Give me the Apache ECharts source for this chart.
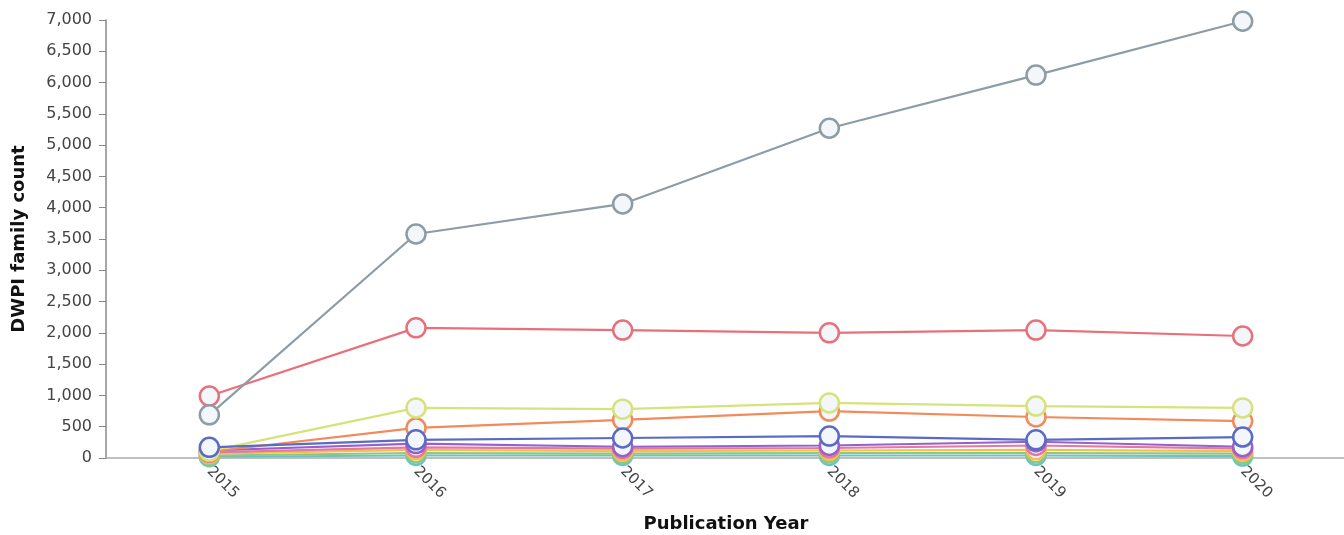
<!DOCTYPE html>
<html>
<head>
<meta charset="utf-8">
<script src="https://cdn.jsdelivr.net/npm/echarts@6/dist/echarts.min.js"></script>
<style>html,body{margin:0;padding:0;background:#fff;}#c{width:1344px;height:535px;}</style>
</head>
<body>
<div id="c"></div>
<script>
var years = ['2015', '2016', '2017', '2018', '2019', '2020'];
var seriesNames = ['S1', 'S2', 'S3', 'S4', 'S5', 'S6', 'S7', 'S8', 'S9', 'S10'];
var colors = ['#8e9ca6', '#e8707a', '#d6e27a', '#f28a5a', '#5a6bc4', '#9a5fc8', '#e07aa0', '#f5c04a', '#8cc78a', '#6cc4c0'];
var s1 = [690, 3580, 4060, 5270, 6120, 6980];
var s2 = [990, 2080, 2045, 2000, 2045, 1950];
var s3 = [110, 800, 780, 880, 830, 800];
var s4 = [100, 480, 610, 750, 655, 590];
var s5 = [170, 290, 320, 350, 290, 335];
var s6 = [120, 230, 180, 200, 260, 180];
var s7 = [90, 170, 150, 160, 200, 150];
var s8 = [70, 130, 110, 120, 130, 110];
var s9 = [40, 80, 70, 80, 80, 70];
var s10 = [20, 40, 40, 40, 40, 30];
var allData = [s1, s2, s3, s4, s5, s6, s7, s8, s9, s10];
var drawOrder = [9, 8, 7, 6, 5, 3, 2, 1, 0, 4];

var chart = echarts.init(document.getElementById('c'));
var series = drawOrder.map(function (i) {
  return {
    name: seriesNames[i],
    type: 'line',
    data: allData[i],
    symbol: 'circle',
    symbolSize: 19,
    showAllSymbol: true,
    z: 2 + drawOrder.indexOf(i),
    lineStyle: { color: colors[i], width: 2.2 },
    itemStyle: { color: '#f3f7fb', borderColor: colors[i], borderWidth: 2.5 },
    emphasis: { disabled: true }
  };
});

chart.setOption({
  animation: false,
  textStyle: { fontFamily: 'DejaVu Sans, Verdana, sans-serif' },
  grid: { left: 106, top: 20, width: 1240, height: 438, containLabel: false, outerBoundsMode: 'none' },
  xAxis: {
    type: 'category',
    data: years,
    boundaryGap: true,
    name: 'Publication Year',
    nameLocation: 'middle',
    nameGap: 57,
    nameTextStyle: { fontSize: 18, fontWeight: 'bold', color: '#111' },
    axisLine: { lineStyle: { color: '#aaaaaa', width: 1.5 } },
    axisTick: { show: false },
    axisLabel: { rotate: -45, fontSize: 15, color: '#444', margin: 11 },
    splitLine: { show: false }
  },
  yAxis: {
    type: 'value',
    min: 0,
    max: 7000,
    interval: 500,
    name: 'DWPI family count',
    nameLocation: 'middle',
    nameGap: 78,
    nameTextStyle: { fontSize: 18, fontWeight: 'bold', color: '#111' },
    axisLine: { show: true, lineStyle: { color: '#888888', width: 1.5 } },
    axisTick: { show: true, length: 7, lineStyle: { color: '#888888' } },
    axisLabel: {
      fontSize: 16,
      color: '#444',
      margin: 14,
      formatter: function (v) { return v.toLocaleString('en-US'); }
    },
    splitLine: { show: false }
  },
  series: series
});
</script>
</body>
</html>
